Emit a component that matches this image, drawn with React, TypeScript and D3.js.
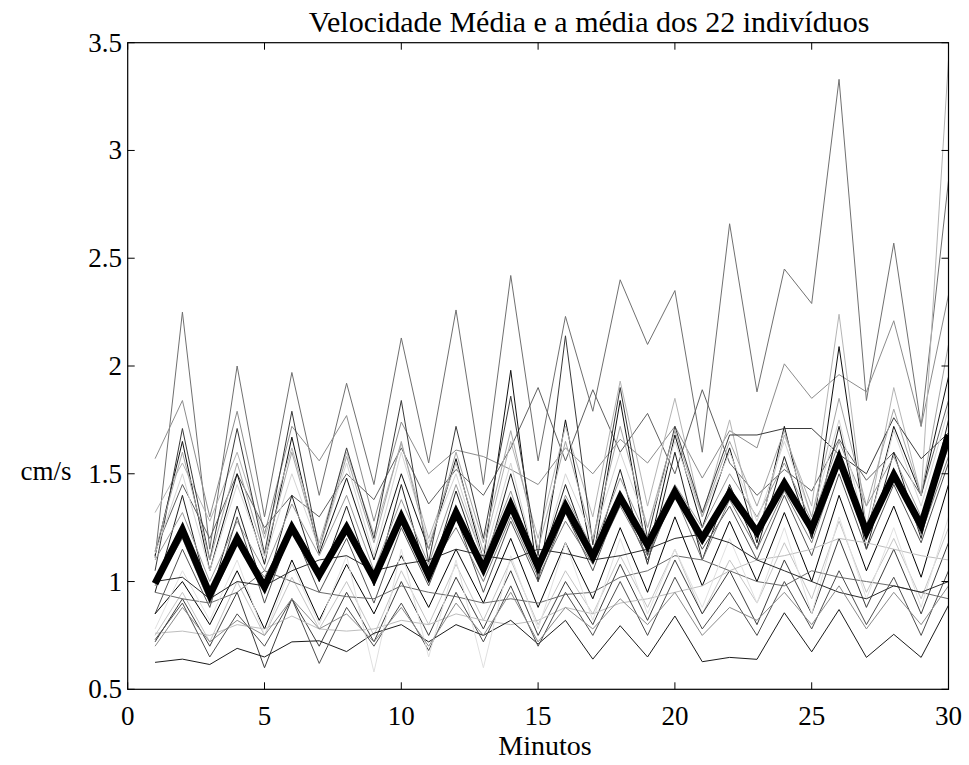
import React from "react";
import * as d3 from "d3";

const minutes = [1,2,3,4,5,6,7,8,9,10,11,12,13,14,15,16,17,18,19,20,21,22,23,24,25,26,27,28,29,30];
const xTicks = [0, 5, 10, 15, 20, 25, 30];
const yTicks = [0.5, 1, 1.5, 2, 2.5, 3, 3.5];
const yTickLabels = ["0.5", "1", "1.5", "2", "2.5", "3", "3.5"];

const titleText = "Velocidade Média e a média dos 22 indivíduos";
const xLabelText = "Minutos";
const yLabelText = "cm/s";

const ind01 = [1.11,2.25,1.15,2.00,1.30,1.97,1.40,1.92,1.45,2.13,1.55,2.26,1.45,2.42,1.56,2.23,1.79,2.40,2.10,2.35,1.60,2.66,1.88,2.45,2.29,3.33,1.84,2.57,1.72,2.86];
const ind02 = [1.57,1.84,1.30,1.79,1.22,1.72,1.56,1.77,1.28,1.74,1.50,1.61,1.58,1.52,1.45,1.62,1.50,1.66,1.55,1.72,1.48,1.70,1.62,2.01,1.85,1.96,1.88,2.21,1.72,2.33];
const ind03 = [1.14,1.45,1.20,1.50,1.25,1.40,1.30,1.50,1.38,1.62,1.36,1.52,1.40,1.62,1.90,1.56,1.89,1.60,1.78,1.50,1.89,1.55,1.40,1.52,1.42,1.66,1.47,1.60,1.40,1.84];
const ind04 = [1.12,1.65,1.05,1.50,1.08,1.67,1.13,1.48,1.10,1.50,1.15,1.57,1.10,1.98,1.00,1.75,1.10,1.84,1.12,1.68,1.25,1.62,1.18,1.72,1.20,2.09,1.22,1.72,1.40,1.95];
const ind05 = [1.32,1.55,1.28,1.60,1.20,1.62,1.18,1.60,1.22,1.64,1.20,1.55,1.14,1.65,1.20,1.72,1.30,1.93,1.35,1.85,1.30,1.75,1.20,1.68,1.35,2.24,1.25,1.90,1.40,3.42];
const ind06 = [1.05,1.71,1.10,1.71,1.13,1.79,1.15,1.62,1.20,1.84,1.09,1.72,1.20,1.86,1.12,2.14,1.17,1.90,1.20,1.72,1.32,1.68,1.68,1.71,1.71,1.59,1.50,1.76,1.57,1.69];
const ind07 = [0.95,1.40,0.92,1.35,0.95,1.40,1.00,1.35,0.98,1.45,1.00,1.42,1.05,1.50,1.05,1.45,1.10,1.52,1.08,1.60,1.10,1.45,1.15,1.58,1.20,1.72,1.15,1.60,1.20,1.75];
const ind08 = [1.10,1.32,1.00,1.28,1.05,1.36,1.12,1.40,1.05,1.38,1.08,1.45,1.10,1.42,1.05,1.40,1.15,1.48,1.20,1.45,1.25,1.50,1.30,1.55,1.28,1.65,1.35,1.58,1.30,1.62];
const ind09 = [1.13,1.50,1.05,1.45,1.10,1.50,1.15,1.55,1.12,1.60,1.18,1.50,1.10,1.55,1.05,1.50,1.20,1.60,1.25,1.65,1.30,1.60,1.28,1.65,1.30,1.75,1.22,1.70,1.35,1.80];
const ind10 = [0.85,1.15,0.88,1.30,0.90,1.25,0.95,1.20,0.90,1.25,0.98,1.30,0.95,1.28,1.00,1.32,1.05,1.38,1.10,1.42,1.15,1.35,1.10,1.40,1.12,1.50,1.15,1.45,1.18,1.55];
const ind11 = [0.98,1.20,0.90,1.18,1.02,1.25,1.05,1.22,1.00,1.28,1.05,1.25,1.00,1.30,1.02,1.28,1.08,1.35,1.12,1.40,1.10,1.38,1.15,1.42,1.18,1.55,1.20,1.50,1.22,1.58];
const ind12 = [0.85,1.00,0.80,1.05,0.78,1.10,0.82,1.08,0.85,1.12,0.88,1.15,0.90,1.20,0.88,1.18,0.92,1.25,0.95,1.30,0.98,1.28,1.00,1.32,1.00,1.40,1.05,1.35,1.02,1.45];
const ind13 = [0.75,0.95,0.72,1.00,0.75,1.02,0.78,1.00,0.75,1.05,0.80,1.08,0.82,1.10,0.80,1.05,0.85,1.12,0.88,1.15,0.85,1.10,0.90,1.18,0.92,1.28,0.95,1.20,0.92,1.25];
const ind14 = [0.72,0.92,0.70,0.95,0.60,0.92,0.70,0.95,0.72,1.00,0.75,1.02,0.78,1.05,0.75,1.00,0.80,1.08,0.82,1.10,0.85,1.05,0.80,1.10,0.85,1.20,0.88,1.15,0.85,1.18];
const ind15 = [0.95,0.92,0.90,0.95,1.05,1.00,0.95,0.93,0.92,0.98,0.95,0.93,0.90,0.92,0.90,0.94,0.95,1.02,1.05,1.12,1.10,1.05,1.00,0.98,1.05,1.02,1.00,0.98,0.95,0.92];
const ind16 = [0.76,0.77,0.75,0.80,0.78,0.84,0.78,0.77,0.78,0.82,0.80,0.85,0.82,0.80,0.82,0.88,0.85,0.90,0.92,0.95,0.98,1.05,1.10,1.12,1.15,1.20,1.18,1.15,1.12,1.10];
const ind17 = [0.625,0.64,0.615,0.69,0.65,0.72,0.725,0.675,0.76,0.80,0.72,0.80,0.75,0.82,0.71,0.82,0.64,0.795,0.65,0.84,0.628,0.648,0.639,0.855,0.674,0.87,0.648,0.755,0.648,0.89];
const ind18 = [0.73,0.90,0.65,0.85,0.70,0.92,0.62,0.88,0.70,0.90,0.68,0.95,0.72,0.98,0.70,0.95,0.75,1.00,0.75,1.02,0.78,0.95,0.75,1.00,0.78,1.05,0.80,1.02,0.75,1.05];
const ind19 = [0.78,1.05,0.82,1.10,0.75,1.08,0.80,1.12,0.58,1.15,0.65,1.10,0.60,1.12,0.78,1.18,0.82,1.20,0.85,1.15,0.88,1.20,0.90,1.25,0.85,1.30,0.92,1.25,0.88,1.30];
const ind20 = [1.00,1.02,0.92,1.00,0.98,1.05,1.10,1.12,1.05,1.08,1.10,1.15,1.12,1.10,1.15,1.13,1.10,1.12,1.15,1.20,1.22,1.18,1.10,1.05,1.00,0.95,0.92,0.98,0.95,1.00];
const ind21 = [0.70,0.88,0.72,0.82,0.75,0.92,0.78,0.85,0.72,0.88,0.70,0.90,0.75,0.95,0.72,0.88,0.78,0.92,0.80,0.95,0.75,0.88,0.82,0.95,0.80,0.98,0.78,0.95,0.80,0.98];
const ind22 = [1.14,1.60,1.10,1.55,1.12,1.60,1.15,1.58,1.18,1.65,1.15,1.60,1.18,1.70,1.15,1.65,1.20,1.72,1.25,1.70,1.30,1.65,1.35,1.70,1.30,1.85,1.35,1.80,1.40,2.10];

const individuals = [ind01, ind02, ind03, ind04, ind05, ind06, ind07, ind08, ind09, ind10, ind11,
  ind12, ind13, ind14, ind15, ind16, ind17, ind18, ind19, ind20, ind21, ind22];

const individualColors = ["#707070", "#8c8c8c", "#606060", "#101010", "#b4b4b4", "#3a3a3a", "#202020",
  "#9a9a9a", "#d4d4d4", "#505050", "#7a7a7a", "#000000", "#c4c4c4", "#3c3c3c", "#6a6a6a", "#bdbdbd",
  "#1a1a1a", "#4d4d4d", "#e0e0e0", "#2a2a2a", "#8a8a8a", "#a5a5a5"];

const meanValues = [0.99,1.24,0.94,1.20,0.975,1.25,1.03,1.25,1.015,1.30,1.03,1.32,1.06,1.355,1.07,1.35,1.115,1.39,1.17,1.415,1.20,1.41,1.23,1.455,1.245,1.57,1.23,1.495,1.26,1.68];

const W = 969;
const H = 765;
const left = 127.7;
const right = 948.5;
const top = 42.7;
const bottom = 689.3;
const FONT = "'Liberation Serif', 'Times New Roman', serif";

export default function App() {
  const x = d3.scaleLinear().domain([0, 30]).range([left, right]);
  const y = d3.scaleLinear().domain([0.5, 3.5]).range([bottom, top]);
  const line = d3.line<number>().x((_, i) => x(minutes[i])).y((d) => y(d));
  const tickLen = 7;

  return (
    <svg width={W} height={H} style={{ position: "absolute", left: 0, top: 0, background: "#fff" }}
      fontFamily={FONT}>
      <defs>
        <clipPath id="plotclip">
          <rect x={left} y={top} width={right - left} height={bottom - top} />
        </clipPath>
      </defs>
      <rect x={0} y={0} width={W} height={H} fill="#fff" />
      <g clipPath="url(#plotclip)">
        {individuals.map((vals, k) => (
          <path key={k} d={line(vals) || ""} fill="none" stroke={individualColors[k]} strokeWidth={1} />
        ))}
        <path d={line(meanValues) || ""} fill="none" stroke="#000" strokeWidth={7} strokeLinejoin="miter" strokeMiterlimit={10} />
      </g>
      <rect x={left} y={top} width={right - left} height={bottom - top} fill="none" stroke="#000" strokeWidth={1.2} />
      {xTicks.map((t) => (
        <g key={"x" + t}>
          <line x1={x(t)} x2={x(t)} y1={bottom} y2={bottom - tickLen} stroke="#000" strokeWidth={1} />
          <line x1={x(t)} x2={x(t)} y1={top} y2={top + tickLen} stroke="#000" strokeWidth={1} />
          <text x={x(t)} y={725} fontSize={27} textAnchor="middle" fill="#000">{t}</text>
        </g>
      ))}
      {yTicks.map((t, i) => (
        <g key={"y" + t}>
          <line x1={left} x2={left + tickLen} y1={y(t)} y2={y(t)} stroke="#000" strokeWidth={1} />
          <line x1={right} x2={right - tickLen} y1={y(t)} y2={y(t)} stroke="#000" strokeWidth={1} />
          <text x={122} y={y(t) + 9} fontSize={27} textAnchor="end" fill="#000">{yTickLabels[i]}</text>
        </g>
      ))}
      <text x={589} y={32} fontSize={30} textAnchor="middle" fill="#000">{titleText}</text>
      <text x={545} y={755} fontSize={28} textAnchor="middle" fill="#000">{xLabelText}</text>
      <text x={46} y={480} fontSize={27} textAnchor="middle" fill="#000">{yLabelText}</text>
    </svg>
  );
}
